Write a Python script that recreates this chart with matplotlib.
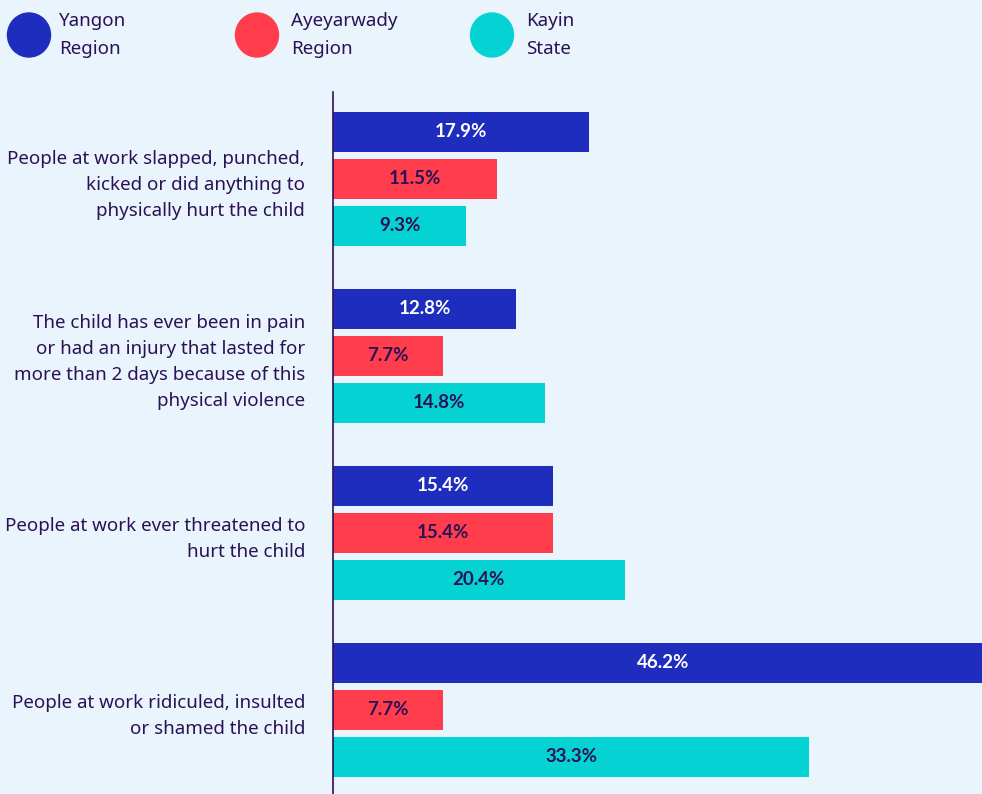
import matplotlib
matplotlib.use('Agg')
import matplotlib.pyplot as plt
from matplotlib.patches import Ellipse

categories = [
    'People at work slapped, punched,\nkicked or did anything to\nphysically hurt the child',
    'The child has ever been in pain\nor had an injury that lasted for\nmore than 2 days because of this\nphysical violence',
    'People at work ever threatened to\nhurt the child',
    'People at work ridiculed, insulted\nor shamed the child',
]
series_names = ['Yangon\nRegion', 'Ayeyarwady\nRegion', 'Kayin\nState']
yangon = [17.9, 12.8, 15.4, 46.2]
ayeyarwady = [11.5, 7.7, 15.4, 7.7]
kayin = [9.3, 14.8, 20.4, 33.3]

colors = ['#1F2DBE', '#FF3D4C', '#05D3D3']
label_colors = ['white', '#2A1255', '#2A1255']
bg = '#EAF4FD'
text_col = '#2A1255'

plt.rcParams['font.family'] = ['Noto Sans', 'DejaVu Sans']

fig = plt.figure(figsize=(9.82, 7.94), dpi=100)
fig.patch.set_facecolor(bg)

ax = fig.add_axes([333 / 982, 0, 649 / 982, 702 / 794])
ax.set_facecolor(bg)

offset = 0.2655
height = 0.226
for i, (vals, c, lc) in enumerate(zip([yangon, ayeyarwady, kayin], colors, label_colors)):
    ys = [g + (i - 1) * offset for g in range(len(categories))]
    bars = ax.barh(ys, vals, height=height, color=c)
    for b, v in zip(bars, vals):
        ax.text(v / 2, b.get_y() + b.get_height() / 2, '{:.1f}%'.format(v),
                ha='center', va='center', color=lc, fontsize=13.5,
                family=['Lato', 'DejaVu Sans'], fontweight='bold', clip_on=False)

ax.set_xlim(0, 45.4)
ax.set_ylim(3.475, -0.49)
ax.set_yticks(range(len(categories)))
ax.set_yticklabels(categories, fontsize=13.5, color=text_col, linespacing=1.59)
ax.tick_params(axis='y', length=0, pad=20)
ax.set_xticks([])
for s in ['top', 'right', 'bottom']:
    ax.spines[s].set_visible(False)
ax.spines['left'].set_color(text_col)
ax.spines['left'].set_linewidth(1.2)

# legend with circles
leg_x = [29, 257, 492]
leg_tx = [59, 291, 526]
for x0, tx, name, c in zip(leg_x, leg_tx, series_names, colors):
    fig.patches.append(Ellipse((x0 / 982, 1 - 35 / 794), 43 / 982, 44 / 794,
                               transform=fig.transFigure, color=c))
    fig.text(tx / 982, 1 - 35 / 794, name, ha='left', va='center',
             fontsize=13.5, color=text_col, linespacing=1.7)

plt.savefig('out.png', dpi=100, facecolor=bg)
